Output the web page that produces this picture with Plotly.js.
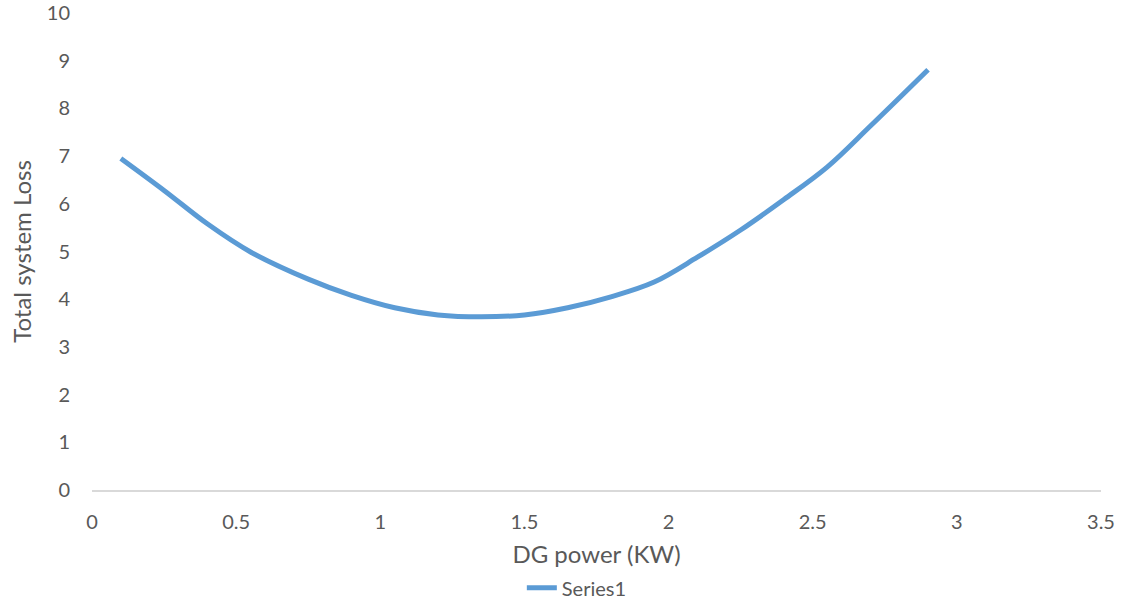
<!DOCTYPE html>
<html>
<head>
<meta charset="utf-8">
<script src="https://cdn.plot.ly/plotly-3.0.1.min.js"></script>
<style>html,body{margin:0;padding:0;background:#fff;}#chart{width:1122px;height:600px;}</style>
</head>
<body>
<div id="chart"></div>
<script>
const dgPower = [0.1, 0.25, 0.4, 0.55, 0.75, 0.9, 1.05, 1.2, 1.35, 1.5, 1.65, 1.8, 1.95, 2.1, 2.25, 2.4, 2.55, 2.7, 2.9];
const totalLoss = [6.95, 6.28, 5.58, 4.99, 4.42, 4.08, 3.82, 3.67, 3.63, 3.67, 3.82, 4.05, 4.36, 4.88, 5.45, 6.09, 6.77, 7.63, 8.81];
const seriesName = "Series1";
const xTitle = "DG power (KW)";
const yTitle = "Total system Loss";

const fam = "Lato, 'Open Sans', sans-serif";
const grey = "#595959";

Plotly.newPlot("chart", [{
  x: dgPower, y: totalLoss, name: seriesName, type: "scatter", mode: "lines",
  line: {color: "#5b9bd5", width: 5, shape: "spline", smoothing: 1}
}], {
  width: 1122, height: 600,
  margin: {l: 92, r: 21, t: 13, b: 110},
  paper_bgcolor: "#fff", plot_bgcolor: "#fff",
  font: {family: fam, size: 20, color: grey},
  showlegend: true,
  legend: {orientation: "h", x: 0.426, xanchor: "left", yref: "container", y: 0.053, yanchor: "top",
           font: {family: fam, size: 20, color: grey}},
  xaxis: {
    range: [0, 3.5], dtick: 0.5, tick0: 0, showgrid: false, zeroline: false, automargin: false,
    showline: true, linecolor: "#d9d9d9", linewidth: 1.5, ticks: "", ticklabelstandoff: 13,
    title: {text: xTitle, font: {family: fam, size: 24, color: grey}, standoff: 14},
    tickfont: {family: fam, size: 20, color: grey}
  },
  yaxis: {
    range: [0, 10], dtick: 1, showgrid: false, zeroline: false, showline: false, ticks: "", automargin: false,
    ticklabelstandoff: 21,
    title: {text: yTitle, font: {family: fam, size: 24, color: grey}, standoff: 8},
    tickfont: {family: fam, size: 20, color: grey}
  }
}, {displayModeBar: false, staticPlot: true});
</script>
</body>
</html>
